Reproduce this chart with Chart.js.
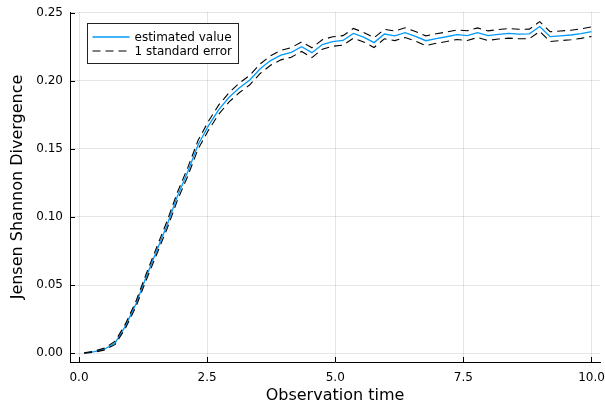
<!DOCTYPE html>
<html><head><meta charset="utf-8">
<script src="https://cdn.jsdelivr.net/npm/chart.js@4/dist/chart.umd.min.js"></script>
<style>html,body{margin:0;padding:0;background:#fff}</style>
</head><body>
<canvas id="c" width="605" height="401"></canvas>
<script>
const obsTime = [0.100,0.302,0.504,0.706,0.908,1.110,1.312,1.514,1.716,1.918,
  2.120,2.322,2.524,2.727,2.929,3.131,3.333,3.535,3.737,3.939,
  4.141,4.343,4.545,4.747,4.949,5.151,5.353,5.555,5.757,5.959,
  6.161,6.363,6.565,6.767,6.969,7.171,7.373,7.576,7.778,7.980,
  8.182,8.384,8.586,8.788,8.990,9.192,9.394,9.596,9.798,10.000];
const estimated = [0.0000,0.0010,0.0030,0.0075,0.0200,0.0360,0.0560,0.0750,0.0940,0.1150,
  0.1330,0.1530,0.1670,0.1790,0.1880,0.1950,0.2007,0.2090,0.2150,0.2190,
  0.2210,0.2252,0.2208,0.2268,0.2290,0.2298,0.2350,0.2322,0.2282,0.2345,
  0.2332,0.2355,0.2328,0.2296,0.2312,0.2325,0.2340,0.2333,0.2355,0.2333,
  0.2343,0.2350,0.2345,0.2346,0.2400,0.2326,0.2332,0.2338,0.2348,0.2362];
const stdErr = [0.0002,0.0004,0.0007,0.0012,0.0016,0.0020,0.0023,0.0026,0.0028,0.0030,
  0.0031,0.0032,0.0033,0.0034,0.0034,0.0035,0.0035,0.0035,0.0035,0.0035,
  0.0035,0.0035,0.0036,0.0035,0.0035,0.0035,0.0036,0.0035,0.0036,0.0035,
  0.0035,0.0036,0.0035,0.0036,0.0035,0.0035,0.0035,0.0036,0.0035,0.0035,
  0.0035,0.0035,0.0035,0.0035,0.0036,0.0036,0.0035,0.0035,0.0035,0.0035];
const xTicks = [0, 2.5, 5, 7.5, 10];
const yTicks = [0, 0.05, 0.10, 0.15, 0.20, 0.25];
const seriesLabels = ['estimated value', '1 standard error'];
const xTitle = 'Observation time';
const yTitle = 'Jensen Shannon Divergence';

const FONT = "'DejaVu Sans', sans-serif";
const BLUE = '#009AFA';
const DASH = [8, 5];

const mid = obsTime.map((x, i) => ({x, y: estimated[i]}));
const upper = obsTime.map((x, i) => ({x, y: estimated[i] + stdErr[i]}));
const lower = obsTime.map((x, i) => ({x, y: estimated[i] - stdErr[i]}));

const insideTicks = {
  id: 'insideTicks',
  afterDraw(chart) {
    const {ctx, chartArea: a, scales: {x, y}} = chart;
    ctx.save();
    ctx.strokeStyle = '#000';
    ctx.lineWidth = 1;
    ctx.beginPath();
    xTicks.forEach(v => { const p = Math.round(x.getPixelForValue(v)) + 0.5; ctx.moveTo(p, a.bottom); ctx.lineTo(p, a.bottom - 5); });
    yTicks.forEach(v => { const p = Math.round(y.getPixelForValue(v)) + 0.5; ctx.moveTo(a.left, p); ctx.lineTo(a.left + 5, p); });
    ctx.stroke();
    ctx.restore();
  }
};

const boxLegend = {
  id: 'boxLegend',
  afterDraw(chart) {
    const {ctx, chartArea: a} = chart;
    const bx = a.left + 17.5, by = a.top + 11.5, bw = 151, bh = 40;
    ctx.save();
    ctx.fillStyle = '#fff';
    ctx.fillRect(bx, by, bw, bh);
    ctx.strokeStyle = '#222';
    ctx.lineWidth = 1;
    ctx.strokeRect(bx, by, bw, bh);
    const entries = [chart.data.datasets[0], chart.data.datasets[1]];
    ctx.font = '12px ' + FONT;
    ctx.textBaseline = 'middle';
    ctx.fillStyle = '#000';
    entries.forEach((ds, i) => {
      const ly = by + 13.5 + i * 14;
      ctx.beginPath();
      ctx.strokeStyle = ds.borderColor;
      ctx.lineWidth = ds.borderWidth;
      ctx.setLineDash(ds.borderDash || []);
      ctx.moveTo(bx + 5, ly);
      ctx.lineTo(bx + 42, ly);
      ctx.stroke();
      ctx.setLineDash([]);
      ctx.fillText(ds.label, bx + 47, ly + 0.5);
    });
    ctx.restore();
  }
};

new Chart(document.getElementById('c'), {
  type: 'line',
  data: {
    datasets: [
      {label: seriesLabels[0], data: mid, borderColor: BLUE, borderWidth: 1.3, pointRadius: 0, tension: 0, fill: false, order: 2},
      {label: seriesLabels[1], data: upper, borderColor: '#000', borderWidth: 1.1, borderDash: DASH, pointRadius: 0, tension: 0, fill: false, order: 1},
      {label: seriesLabels[1], data: lower, borderColor: '#000', borderWidth: 1.1, borderDash: DASH, pointRadius: 0, tension: 0, fill: false, order: 1}
    ]
  },
  options: {
    responsive: false,
    animation: false,
    devicePixelRatio: 1,
    layout: {padding: {top: 12, right: 5, left: 0, bottom: 0}},
    plugins: {legend: {display: false}, tooltip: {enabled: false}},
    scales: {
      x: {
        type: 'linear', min: -0.176, max: 10.166,
        afterBuildTicks: s => { s.ticks = xTicks.map(v => ({value: v})); },
        afterFit: s => { s.height = 39; s.paddingLeft = 0; s.paddingRight = 0; },
        ticks: {callback: v => v.toFixed(1), font: {family: FONT, size: 12}, color: '#000', padding: 9, maxRotation: 0, autoSkip: false},
        grid: {color: 'rgba(0,0,0,0.1)', drawTicks: false},
        border: {color: '#000', width: 1},
        title: {display: true, text: xTitle, font: {family: FONT, size: 16, lineHeight: 1}, color: '#000', padding: {top: 1, bottom: -3}}
      },
      y: {
        type: 'linear', min: -0.0066, max: 0.2507,
        afterBuildTicks: s => { s.ticks = yTicks.map(v => ({value: v})); },
        afterFit: s => { s.width = 70; s.paddingTop = 0; s.paddingBottom = 0; },
        ticks: {callback: v => v.toFixed(2), font: {family: FONT, size: 12}, color: '#000', padding: 7, autoSkip: false},
        grid: {color: 'rgba(0,0,0,0.1)', drawTicks: false},
        border: {color: '#000', width: 1},
        title: {display: true, text: yTitle, font: {family: FONT, size: 16, lineHeight: 1}, color: '#000', padding: {top: 10, bottom: 4}}
      }
    }
  },
  plugins: [insideTicks, boxLegend]
});
</script>
</body></html>
